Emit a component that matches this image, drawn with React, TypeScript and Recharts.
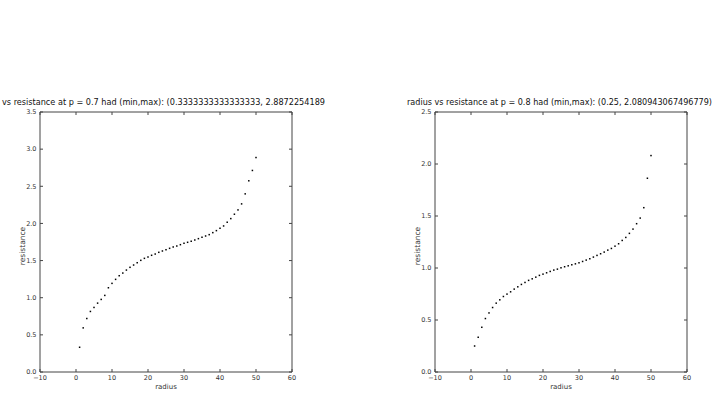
import React from 'react';
import { ScatterChart, Scatter, XAxis, YAxis } from 'recharts';

const radius: number[] = [
  1, 2, 3, 4, 5, 6, 7, 8, 9, 10, 11, 12, 13, 14, 15, 16, 17, 18, 19, 20, 21, 22, 23, 24, 25,
  26, 27, 28, 29, 30, 31, 32, 33, 34, 35, 36, 37, 38, 39, 40, 41, 42, 43, 44, 45, 46, 47, 48, 49, 50,
];

const resistanceP07: number[] = [
  0.333, 0.594, 0.72, 0.815, 0.869, 0.927, 0.977, 1.031, 1.134, 1.193,
  1.247, 1.296, 1.332, 1.372, 1.409, 1.44, 1.471, 1.503, 1.53, 1.548,
  1.571, 1.588, 1.611, 1.629, 1.646, 1.665, 1.683, 1.696, 1.714, 1.733,
  1.746, 1.76, 1.777, 1.795, 1.814, 1.831, 1.849, 1.876, 1.903, 1.935,
  1.966, 2.016, 2.065, 2.124, 2.182, 2.263, 2.398, 2.574, 2.713, 2.887,
];

const resistanceP08: number[] = [
  0.25, 0.334, 0.43, 0.514, 0.568, 0.62, 0.662, 0.694, 0.726, 0.749,
  0.771, 0.797, 0.819, 0.842, 0.861, 0.881, 0.896, 0.912, 0.929, 0.941,
  0.954, 0.967, 0.98, 0.989, 1.002, 1.012, 1.021, 1.031, 1.04, 1.05,
  1.063, 1.076, 1.089, 1.105, 1.121, 1.137, 1.153, 1.172, 1.188, 1.21,
  1.233, 1.265, 1.294, 1.333, 1.374, 1.426, 1.48, 1.58, 1.863, 2.081,
];

const xTicks: number[] = [-10, 0, 10, 20, 30, 40, 50, 60];
const yTicksLeft: number[] = [0, 0.5, 1, 1.5, 2, 2.5, 3, 3.5];
const yTicksRight: number[] = [0, 0.5, 1, 1.5, 2, 2.5];

const titleLeft = 'vs resistance at p = 0.7 had (min,max): (0.3333333333333333, 2.8872254189';
const titleRight = 'radius vs resistance at p = 0.8 had (min,max): (0.25, 2.080943067496779)';
const xLabel = 'radius';
const yLabel = 'resistance';

const dataLeft = radius.map((r, i) => ({ x: r, y: resistanceP07[i] }));
const dataRight = radius.map((r, i) => ({ x: r, y: resistanceP08[i] }));

const FONT = 'DejaVu Sans, sans-serif';
const AXIS = '#444';
const TXT = '#333';
const TICK_LEN = 3;
const TICK_FS = 6.5;

const fmtX = (v: number) => String(v).replace('-', '\u2212');
const fmtY = (v: number) => v.toFixed(1);

const Dot = (props: any) => {
  const { cx, cy } = props;
  if (cx == null || cy == null) return null;
  return <rect x={cx - 0.75} y={cy - 0.75} width={1.5} height={1.5} fill="#000" />;
};

const BottomTick = (props: any) => {
  const { x, y, payload } = props;
  return (
    <g>
      <line x1={x} x2={x} y1={y} y2={y - TICK_LEN} stroke={AXIS} strokeWidth={1} />
      <text x={x} y={y + 7.5} textAnchor="middle" fontSize={TICK_FS} fill={TXT} fontFamily={FONT}>
        {fmtX(payload.value)}
      </text>
    </g>
  );
};

const TopTick = (props: any) => {
  const { x, y } = props;
  return <line x1={x} x2={x} y1={y} y2={y + TICK_LEN} stroke={AXIS} strokeWidth={1} />;
};

const LeftTick = (props: any) => {
  const { x, y, payload } = props;
  return (
    <g>
      <line x1={x} x2={x + TICK_LEN} y1={y} y2={y} stroke={AXIS} strokeWidth={1} />
      <text x={x - 3.5} y={y + 2.3} textAnchor="end" fontSize={TICK_FS} fill={TXT} fontFamily={FONT}>
        {fmtY(payload.value)}
      </text>
    </g>
  );
};

const RightTick = (props: any) => {
  const { x, y } = props;
  return <line x1={x} x2={x - TICK_LEN} y1={y} y2={y} stroke={AXIS} strokeWidth={1} />;
};

function Panel(props: {
  data: { x: number; y: number }[];
  yMax: number;
  yTicks: number[];
  marginLeft: number;
  marginRight: number;
}) {
  const { data, yMax, yTicks, marginLeft, marginRight } = props;
  return (
    <ScatterChart
      width={360}
      height={405}
      margin={{ top: 111, right: marginRight, bottom: 13, left: marginLeft }}
      style={{ fontFamily: FONT }}
    >
      <XAxis
        xAxisId="b"
        type="number"
        dataKey="x"
        domain={[-10, 60]}
        ticks={xTicks}
        allowDataOverflow
        orientation="bottom"
        height={20}
        stroke={AXIS}
        tickLine={false}
        tickSize={0}
        tickMargin={0}
        tick={<BottomTick />}
        interval={0}
      />
      <XAxis
        xAxisId="t"
        type="number"
        dataKey="x"
        domain={[-10, 60]}
        ticks={xTicks}
        allowDataOverflow
        orientation="top"
        height={1}
        stroke={AXIS}
        tickLine={false}
        tickSize={0}
        tickMargin={0}
        tick={<TopTick />}
        interval={0}
      />
      <YAxis
        yAxisId="l"
        type="number"
        dataKey="y"
        domain={[0, yMax]}
        ticks={yTicks}
        allowDataOverflow
        orientation="left"
        width={30}
        stroke={AXIS}
        tickLine={false}
        tickSize={0}
        tickMargin={0}
        tick={<LeftTick />}
        interval={0}
      />
      <YAxis
        yAxisId="r"
        type="number"
        dataKey="y"
        domain={[0, yMax]}
        ticks={yTicks}
        allowDataOverflow
        orientation="right"
        width={1}
        stroke={AXIS}
        tickLine={false}
        tickSize={0}
        tickMargin={0}
        tick={<RightTick />}
        interval={0}
      />
      <Scatter
        data={data}
        xAxisId="b"
        yAxisId="l"
        shape={<Dot />}
        isAnimationActive={false}
      />
    </ScatterChart>
  );
}

export default function App() {
  return (
    <div
      style={{
        position: 'absolute',
        left: 0,
        top: 0,
        width: 720,
        height: 405,
        background: '#fff',
        fontFamily: FONT,
      }}
    >
      <div style={{ position: 'absolute', left: 0, top: 0 }}>
        <Panel data={dataLeft} yMax={3.5} yTicks={yTicksLeft} marginLeft={10} marginRight={67} />
      </div>
      <div style={{ position: 'absolute', left: 360, top: 0 }}>
        <Panel data={dataRight} yMax={2.5} yTicks={yTicksRight} marginLeft={45} marginRight={32} />
      </div>
      <svg
        width={720}
        height={405}
        style={{ position: 'absolute', left: 0, top: 0, pointerEvents: 'none' }}
      >
        <text x={2} y={105} fontSize={8} fill="#111" fontFamily={FONT} textLength={323} lengthAdjust="spacingAndGlyphs">
          {titleLeft}
        </text>
        <text x={407} y={105} fontSize={8} fill="#111" fontFamily={FONT} textLength={305} lengthAdjust="spacingAndGlyphs">
          {titleRight}
        </text>
        <text x={166} y={389} fontSize={7} fill={TXT} fontFamily={FONT} textAnchor="middle">
          {xLabel}
        </text>
        <text x={561} y={389} fontSize={7} fill={TXT} fontFamily={FONT} textAnchor="middle">
          {xLabel}
        </text>
        <text
          x={0}
          y={0}
          fontSize={7.5}
          fill={TXT}
          fontFamily={FONT}
          textAnchor="middle"
          transform="translate(24.5,246) rotate(-90)"
        >
          {yLabel}
        </text>
        <text
          x={0}
          y={0}
          fontSize={7.5}
          fill={TXT}
          fontFamily={FONT}
          textAnchor="middle"
          transform="translate(419.5,246) rotate(-90)"
        >
          {yLabel}
        </text>
      </svg>
    </div>
  );
}
